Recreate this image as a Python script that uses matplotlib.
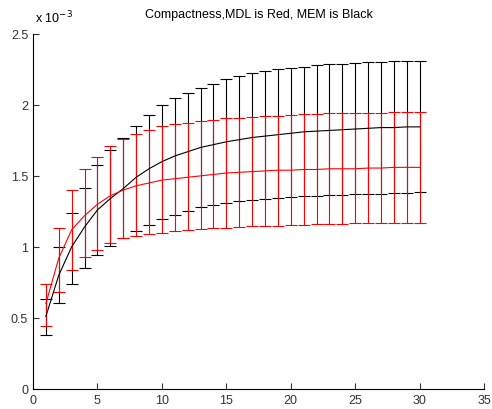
import matplotlib
matplotlib.use("Agg")
import matplotlib.pyplot as plt
import numpy as np

plt.rcParams["font.family"] = ["Liberation Sans", "DejaVu Sans"]

# Values in units of 1e-3
x = np.arange(1, 31)

mdl_mean = [0.60, 0.92, 1.12, 1.22, 1.30, 1.36, 1.40, 1.43, 1.45, 1.47,
            1.48, 1.49, 1.50, 1.51, 1.52, 1.525, 1.53, 1.535, 1.54, 1.54,
            1.545, 1.545, 1.55, 1.55, 1.55, 1.555, 1.555, 1.56, 1.56, 1.56]
mdl_low = [0.44, 0.68, 0.84, 0.93, 0.98, 1.03, 1.06, 1.08, 1.09, 1.10,
           1.11, 1.12, 1.125, 1.13, 1.135, 1.14, 1.145, 1.15, 1.15, 1.155,
           1.155, 1.16, 1.16, 1.16, 1.165, 1.165, 1.165, 1.17, 1.17, 1.17]
mdl_high = [0.74, 1.13, 1.40, 1.55, 1.635, 1.71, 1.76, 1.795, 1.82, 1.85,
            1.865, 1.875, 1.885, 1.895, 1.905, 1.91, 1.915, 1.92, 1.925, 1.93,
            1.935, 1.935, 1.94, 1.94, 1.945, 1.945, 1.945, 1.95, 1.95, 1.95]

mem_mean = [0.51, 0.80, 1.00, 1.14, 1.26, 1.34, 1.41, 1.49, 1.55, 1.60,
            1.64, 1.67, 1.70, 1.72, 1.74, 1.755, 1.77, 1.78, 1.79, 1.80,
            1.81, 1.815, 1.82, 1.825, 1.83, 1.835, 1.84, 1.84, 1.845, 1.845]
mem_low = [0.38, 0.605, 0.74, 0.85, 0.945, 1.005, 1.06, 1.11, 1.155, 1.195,
           1.225, 1.255, 1.28, 1.295, 1.31, 1.32, 1.33, 1.34, 1.345, 1.35,
           1.355, 1.36, 1.365, 1.365, 1.37, 1.375, 1.375, 1.38, 1.38, 1.385]
mem_high = [0.63, 1.00, 1.24, 1.415, 1.58, 1.68, 1.765, 1.85, 1.93, 2.00,
            2.05, 2.085, 2.12, 2.15, 2.18, 2.20, 2.225, 2.24, 2.25, 2.26,
            2.27, 2.28, 2.285, 2.29, 2.295, 2.30, 2.30, 2.31, 2.31, 2.31]

xticks = [0, 5, 10, 15, 20, 25, 30, 35]
yticks = [0, 0.5, 1, 1.5, 2, 2.5]
yticklabels = ["0", "0.5", "1", "1.5", "2", "2.5"]

fig = plt.figure(figsize=(4.92, 4.10), dpi=100)
ax = fig.add_axes([0.067, 0.049, 0.917, 0.866])

def draw(mean, low, high, color):
    mean = np.array(mean)
    err = [mean - np.array(low), np.array(high) - mean]
    ax.errorbar(x, mean, yerr=err, color=color, linewidth=0.8,
                elinewidth=0.8, capsize=4.2, capthick=0.8)

draw(mem_mean, mem_low, mem_high, "#000000")
draw(mdl_mean, mdl_low, mdl_high, "#ff0000")

ax.set_xlim(0, 35)
ax.set_ylim(0, 2.5)
ax.set_xticks(xticks)
ax.set_yticks(yticks)
ax.set_yticklabels(yticklabels)
ax.spines["top"].set_visible(False)
ax.spines["right"].set_visible(False)
ax.tick_params(direction="in", length=4, labelsize=9, colors="#333333")
ax.set_title("Compactness,MDL is Red, MEM is Black", fontsize=9, pad=12)
ax.text(0.005, 1.025, "x 10$^{-3}$", transform=ax.transAxes, fontsize=9,
        ha="left", va="bottom")

fig.savefig("out.png", dpi=100)
